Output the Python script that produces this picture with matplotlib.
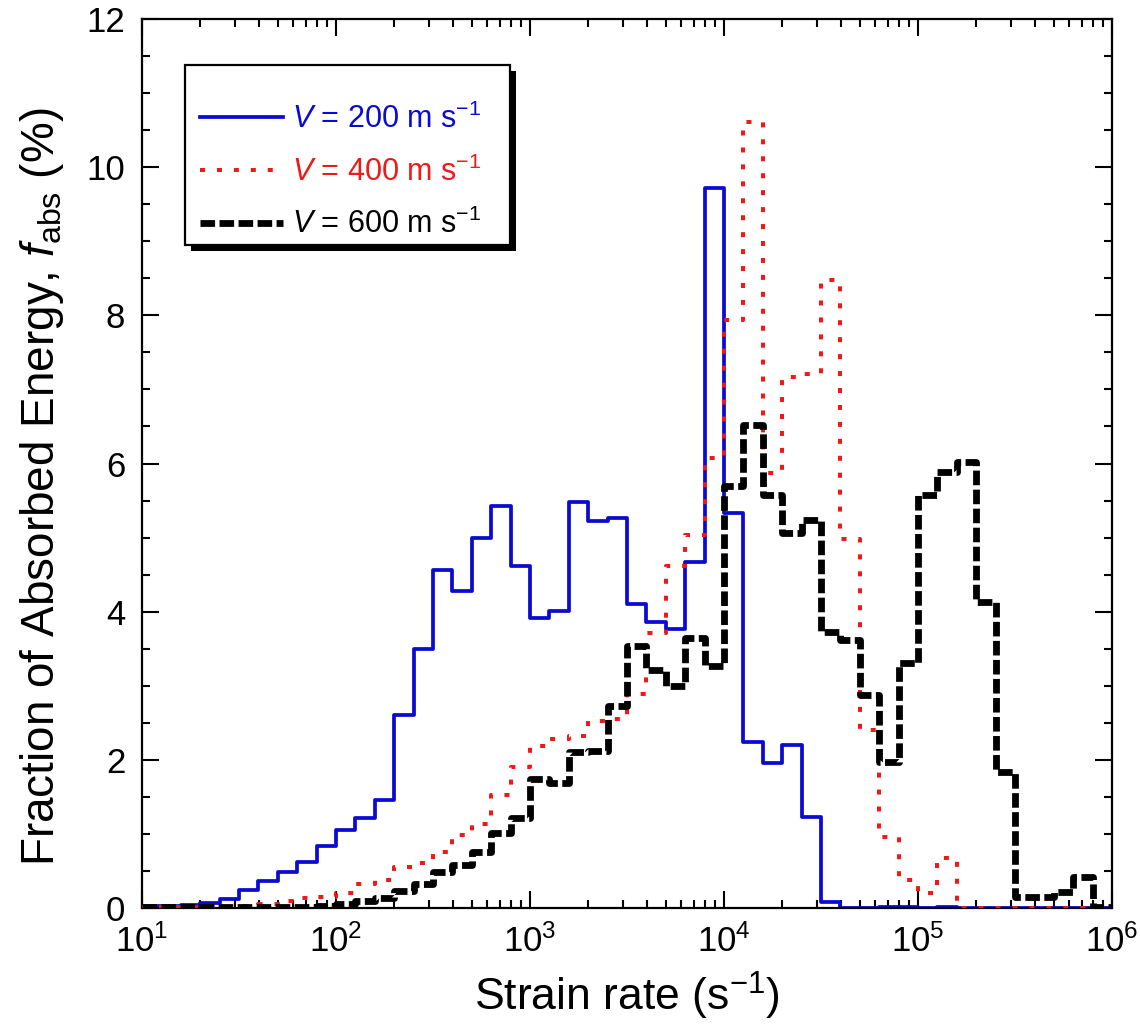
import numpy as np
import matplotlib
matplotlib.use('Agg')
import matplotlib.pyplot as plt
from matplotlib.patches import Rectangle

plt.rcParams['font.family'] = ['Liberation Sans', 'DejaVu Sans']
plt.rcParams['mathtext.fontset'] = 'custom'
plt.rcParams['mathtext.rm'] = 'Liberation Sans'
plt.rcParams['mathtext.it'] = 'Liberation Sans:italic'
plt.rcParams['mathtext.default'] = 'regular'
plt.rcParams['lines.scale_dashes'] = False

# histogram bins: 10 per decade, 10 to 1e6 s^-1
edges = np.logspace(1, 6, 51)

# fraction of absorbed energy (%) per bin
f_200 = [0.03, 0.03, 0.04, 0.07, 0.12, 0.24, 0.36, 0.48, 0.62, 0.84,
         1.05, 1.21, 1.46, 2.60, 3.49, 4.56, 4.28, 5.00, 5.43, 4.61,
         3.91, 4.01, 5.48, 5.23, 5.27, 4.10, 3.86, 3.77, 4.67, 9.72,
         5.33, 2.24, 1.96, 2.20, 1.23, 0.08, 0.00, 0.00, 0.02, 0.02,
         0.00, 0.02, 0.00, 0.00, 0.00, 0.00, 0.00, 0.00, 0.00, 0.00]
f_400 = [0.01, 0.01, 0.01, 0.02, 0.02, 0.03, 0.05, 0.09, 0.13, 0.15,
         0.20, 0.33, 0.38, 0.56, 0.61, 0.75, 0.99, 1.14, 1.52, 1.90,
         2.19, 2.28, 2.32, 2.53, 2.55, 2.89, 3.71, 4.61, 5.03, 6.08,
         7.94, 10.61, 5.87, 7.17, 7.21, 8.48, 4.98, 2.40, 0.96, 0.38,
         0.20, 0.67, 0.00, 0.00, 0.00, 0.00, 0.00, 0.00, 0.00, 0.00]
f_600 = [0.01, 0.01, 0.01, 0.01, 0.01, 0.02, 0.02, 0.02, 0.02, 0.03,
         0.06, 0.10, 0.13, 0.23, 0.33, 0.48, 0.58, 0.75, 1.01, 1.22,
         1.74, 1.69, 2.10, 2.12, 2.72, 3.53, 3.21, 2.99, 3.64, 3.26,
         5.69, 6.52, 5.58, 5.06, 5.24, 3.73, 3.62, 2.87, 1.97, 3.31,
         5.57, 5.89, 6.02, 4.13, 1.84, 0.15, 0.15, 0.22, 0.42, 0.02]

labels = [r'$\mathit{V}$ = 200 m s$^{-1}$',
          r'$\mathit{V}$ = 400 m s$^{-1}$',
          r'$\mathit{V}$ = 600 m s$^{-1}$']
colors = ['#0a0ad2', '#f01818', '#000000']

fig = plt.figure(figsize=(11.4, 10.33), dpi=100)
ax = fig.add_axes([142 / 1140, 1 - 908 / 1033, 970 / 1140, 889 / 1033])

series = [f_200, f_400, f_600]
for i, (vals, lab, col) in enumerate(zip(series, labels, colors)):
    y = np.append(vals, vals[-1])
    line, = ax.step(edges, y, where='post', color=col, label=lab, zorder=2 + i)
    if i == 0:
        line.set_linewidth(2.7)
    elif i == 1:
        line.set_linewidth(2.9)
        line.set_dashes((3.6, 8.6))
    else:
        line.set_linewidth(4.9)
        line.set_dashes((10.5, 3.2))

ax.set_xscale('log')
ax.set_xlim(10, 1e6)
ax.set_ylim(0, 12)
ax.set_yticks(np.arange(0, 13, 2))
ax.set_yticks(np.arange(0, 12.01, 0.5), minor=True)

for s in ax.spines.values():
    s.set_linewidth(1.6)
ax.tick_params(which='both', direction='in', top=True, right=True, width=1.5,
               labelsize=25)
ax.tick_params(which='major', length=12, pad=12)
ax.tick_params(which='minor', length=6)

ax.set_xlabel(r'Strain rate (s$^{-1}$)', fontsize=32, labelpad=8)
ax.set_ylabel(r'Fraction of Absorbed Energy, $\mathit{f}_{\rm abs}$ (%)',
              fontsize=33)
ax.yaxis.set_label_coords(-0.078, 0.474)

# legend entries without frame; the box and its shadow are drawn separately
leg = ax.legend(loc='center left', bbox_to_anchor=(0.0598, 0.828),
                borderaxespad=0, borderpad=0, fontsize=22, frameon=False,
                handlelength=2.7, handletextpad=0.3, labelspacing=0.7,
                labelcolor='linecolor')
leg.set_zorder(12)

box_x0, box_x1 = 43 / 970, 368 / 970
box_y0, box_y1 = 663 / 889, 843 / 889
ax.add_patch(Rectangle((box_x0 + 6 / 970, box_y0 - 6 / 889), box_x1 - box_x0,
                       box_y1 - box_y0, transform=ax.transAxes,
                       facecolor='black', edgecolor='none', zorder=10))
ax.add_patch(Rectangle((box_x0, box_y0), box_x1 - box_x0, box_y1 - box_y0,
                       transform=ax.transAxes, facecolor='white',
                       edgecolor='black', linewidth=1.6, zorder=11))

fig.savefig('out.png', dpi=100)
